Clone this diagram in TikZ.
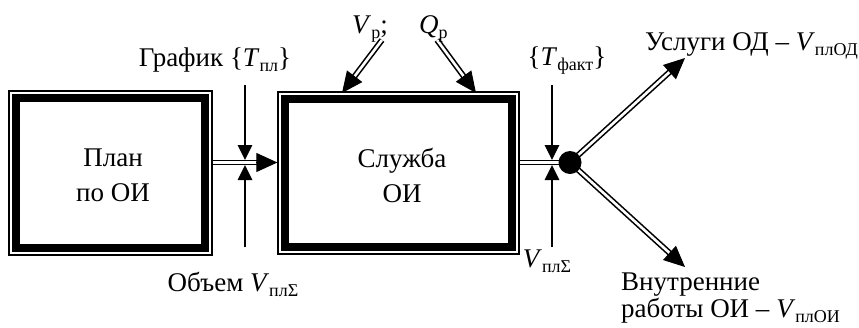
\documentclass[tikz,border=0pt]{standalone}
\usepackage{fontspec}
\setmainfont{Liberation Serif}
\usetikzlibrary{arrows.meta,calc}
\newcommand\sbs[1]{\raisebox{-0.2em}{\fontsize{18}{18}\selectfont #1}}
\newcommand\dblarr[2]{\draw[dblshaft, shorten >=16pt] (#1) -- (#2); \draw[bigtip] ($(#2)!21pt!(#1)$) -- (#2);}
\begin{document}
\begin{tikzpicture}[x=1pt,y=-1pt, font=\fontsize{27}{35}\selectfont,
 outerbox/.style={draw, line width=1.3pt, inner sep=0pt},
 thickframe/.style={line width=7.5pt},
 dblshaft/.style={draw, double=white, double distance=2.6pt, line width=1.6pt},
 bigtip/.style={line width=1pt, -{Triangle[length=21pt,width=19pt]}},
 thinarrow/.style={line width=2.8pt, -{Triangle[length=15pt,width=14pt]}},
 lbl/.style={inner sep=0pt, anchor=base},
 lblw/.style={inner sep=0pt, anchor=base west}]
\useasboundingbox (0,0) rectangle (859,327);
% boxes
\node[outerbox, minimum width=203pt, minimum height=164pt] (plan) at (110.5,173) {};
\node[outerbox, minimum width=241pt, minimum height=162pt] (sluzh) at (398.5,173) {};
\draw[thickframe] ([xshift=7.5pt,yshift=-7.5pt]plan.north west) rectangle ([xshift=-7.5pt,yshift=7.5pt]plan.south east);
\draw[thickframe] ([xshift=7.5pt,yshift=-7.5pt]sluzh.north west) rectangle ([xshift=-7.5pt,yshift=7.5pt]sluzh.south east);
\node[align=center, inner sep=0pt] (plantxt) at (113,175) {План\\по ОИ};
\node[align=center, inner sep=0pt] (sluzhtxt) at (402,175) {Служба\\ОИ};
% junction dot
\coordinate (dotc) at (570,162.5);
\coordinate (uo) at (685,58);
\coordinate (vo) at (685,267);
\coordinate (vpS) at (382,40);
\coordinate (vpE) at (342,93);
\coordinate (qpS) at (437,40);
\coordinate (qpE) at (476,93);
% double arrows
\dblarr{plan.east |- 0,162.5}{sluzh.west |- 0,162.5}
\draw[dblshaft] (sluzh.east |- 0,162.5) -- (dotc);
\dblarr{dotc}{uo}
\dblarr{dotc}{vo}
\dblarr{vpS}{vpE}
\dblarr{qpS}{qpE}
\node[circle, fill=black, inner sep=0pt, minimum size=23pt] (dot) at (dotc) {};
% thin arrows
\coordinate (a1s) at (245,85);  \coordinate (a1e) at (245,160);
\coordinate (a2s) at (245,247); \coordinate (a2e) at (245,165);
\coordinate (a3s) at (552,85);  \coordinate (a3e) at (552,160);
\coordinate (a4s) at (552,247); \coordinate (a4e) at (552,165);
\draw[thinarrow] (a1s) -- (a1e);
\draw[thinarrow] (a2s) -- (a2e);
\draw[thinarrow] (a3s) -- (a3e);
\draw[thinarrow] (a4s) -- (a4e);
% labels
\node[lbl] (grafik) at (215,66) {График \{\textit{T}\sbs{пл}\}};
\node[lbl] (obem) at (233,291) {Объем \textit{V}\sbs{плΣ}};
\node[lblw] (vp) at (352,33) {\textit{V}\sbs{р};};
\node[lblw] (qp) at (419,33) {\textit{Q}\sbs{р}};
\node[lbl] (tf) at (567,65) {\{\textit{T}\sbs{факт}\}};
\node[lbl] (vs) at (547,267) {\textit{V}\sbs{плΣ}};
\node[lblw] (usl) at (645,50) {Услуги ОД – \textit{V}\sbs{плОД}};
\node[lblw] (vn1) at (621,290) {Внутренние};
\node[lblw] (vn2) at (621,317) {работы ОИ – \textit{V}\sbs{плОИ}};
\end{tikzpicture}
\end{document}
